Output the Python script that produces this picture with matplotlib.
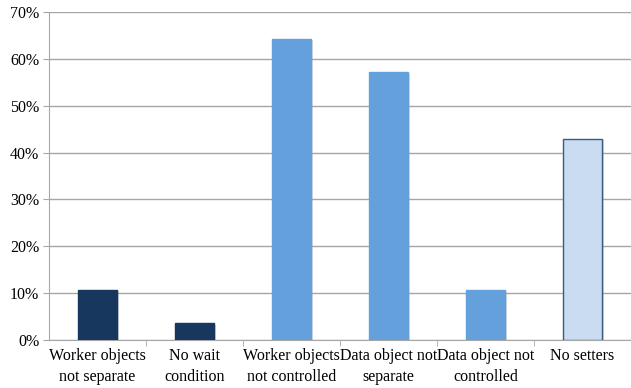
import matplotlib.pyplot as plt
import matplotlib.patheffects as pe
from matplotlib.ticker import PercentFormatter, FixedLocator

categories = ["Worker objects\nnot separate", "No wait\ncondition",
              "Worker objects\nnot controlled", "Data object not\nseparate",
              "Data object not\ncontrolled", "No setters"]
shares = [10.7, 3.6, 64.3, 57.1, 10.7, 42.9]
fill_colors = ["#17375E", "#17375E", "#63A0DC", "#63A0DC", "#63A0DC", "#C9DCF1"]
edge_colors = ["#17375E", "#17375E", "#63A0DC", "#63A0DC", "#63A0DC", "#3A5A80"]

plt.rcParams["font.family"] = ["Liberation Serif", "DejaVu Serif"]

fig = plt.figure(figsize=(6.31, 3.88), dpi=100)
ax = fig.add_axes([49 / 631, 1 - 340 / 388, 582 / 631, 328 / 388])

x = list(range(len(categories)))
bars = ax.bar(x, shares, width=0.41, color=fill_colors, edgecolor=edge_colors,
              linewidth=1.0, zorder=3)
for b in bars:
    b.set_path_effects([pe.SimplePatchShadow(offset=(1.5, -1), shadow_rgbFace="#999999", alpha=0.35),
                        pe.Normal()])

ax.set_xlim(-0.5, len(categories) - 0.5)
ax.set_ylim(0, 70)
ax.set_yticks(range(0, 71, 10))
ax.yaxis.set_major_formatter(PercentFormatter(decimals=0))
ax.grid(axis="y", color="#A6A6A6", linewidth=1.0, zorder=0)

ax.set_xticks(x)
ax.set_xticklabels(categories, fontsize=11.5, linespacing=1.35)
ax.xaxis.set_minor_locator(FixedLocator([i + 0.5 for i in range(len(categories) - 1)]))
ax.tick_params(axis="x", which="major", length=0, pad=6)
ax.tick_params(axis="x", which="minor", length=4, color="#A6A6A6")
ax.tick_params(axis="y", length=4, color="#A6A6A6", labelsize=11.5, pad=3)

for side in ["top", "right"]:
    ax.spines[side].set_visible(False)
for side in ["left", "bottom"]:
    ax.spines[side].set_color("#A6A6A6")

fig.savefig("out.png", dpi=100)
